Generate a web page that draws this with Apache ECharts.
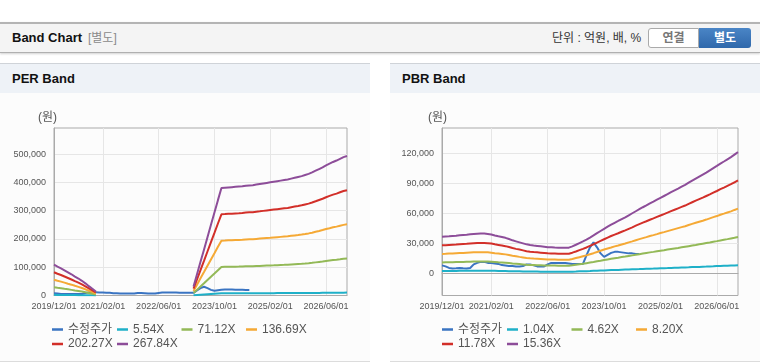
<!DOCTYPE html>
<html><head><meta charset="utf-8">
<script src="https://cdn.jsdelivr.net/npm/echarts@6/dist/echarts.min.js"></script>
<style>
body{margin:0;width:760px;height:364px;overflow:hidden;background:#fff;font-family:'Liberation Sans','Noto Sans CJK KR',sans-serif;position:relative}
.abs{position:absolute}
.hdr{left:0;top:22px;width:760px;height:28px;background:#f4f4f4;border-top:2px solid #b4b4b4;border-bottom:1px solid #b0b0b0;box-shadow:0 1px 2px rgba(0,0,0,0.18)}
.t1{left:12px;top:0;line-height:28px;font-size:13px;font-weight:bold;color:#111}
.t2{left:88px;top:0;line-height:28px;font-size:12px;color:#8a8a8a}
.unit{left:552px;top:0;line-height:28px;font-size:12px;color:#333}
.btn{top:4px;height:18px;line-height:18px;font-size:12px;font-weight:bold;text-align:center}
.b1{left:648px;width:49px;background:#fff;border:1px solid #aaa;border-radius:3px 0 0 3px;color:#777}
.b2{left:699px;width:52px;height:20px;line-height:20px;background:linear-gradient(#4a85c6,#2f68ab);border-radius:0 3px 3px 0;color:#fff}
.ph{top:63px;width:370px;height:29px;background:#eef2f7;border-top:1px solid #cfd3d8}
.ph span{position:absolute;left:12px;top:0;line-height:29px;font-size:13px;font-weight:bold;color:#111}
.pb{top:93px;width:370px;height:268px;background:#fcfcfc;border-bottom:1px solid #dcdcdc}
.chart{left:0;top:0;width:370px;height:268px}
</style></head>
<body>
<div class="abs hdr">
  <div class="abs t1">Band Chart</div>
  <div class="abs t2">[별도]</div>
  <div class="abs unit">단위 : 억원, 배, %</div>
  <div class="abs btn b1">연결</div>
  <div class="abs btn b2">별도</div>
</div>
<div class="abs ph" style="left:0"><span>PER Band</span></div>
<div class="abs ph" style="left:390px"><span>PBR Band</span></div>
<div class="abs pb" style="left:0"><div id="per" class="abs chart"></div></div>
<div class="abs pb" style="left:390px"><div id="pbr" class="abs chart"></div></div>
<script>
// ---- categories (monthly, 2019/12 .. 2026/12) ----
const categories = [];
for (let y = 2019, m = 12; y < 2027; ) {
  categories.push(y + '/' + (m < 10 ? '0' + m : m) + '/01');
  m++; if (m > 12) { m = 1; y++; }
}
const xTickLabels = ['2019/12/01','2021/02/01','2022/06/01','2023/10/01','2025/02/01','2026/06/01'];

// ---- adjusted price (수정주가) ----
const price = [8000,7000,5500,5000,5200,5500,5200,5000,5500,9000,
10500,11500,11500,10500,10500,10000,9500,8300,8000,7500,
7300,7000,7000,7300,9000,9000,8000,7000,7000,7000,
9000,10500,10500,10500,10500,10500,10000,9500,9500,9500,
9500,18000,26000,31000,26000,20000,16500,18500,20500,21500,
21500,21000,20500,20000,20000,19500,19500,
null,null,null,null,null,null,null,null,null,null,null,null,null,null,null,null,null,null,null,null,null,null,null,null,null,null,null,null];

// ---- PER bands ----
const perNames = ['5.54X','71.12X','136.69X','202.27X','267.84X'];
const per554 = [2300,2100,2000,1800,1700,1600,1400,1200,1100,900,700,500,300,
null,null,null,null,null,null,null,null,null,null,null,null,null,null,null,null,null,null,null,null,null,null,null,null,null,null,null,
700,1600,2500,3400,4300,5200,6100,7000,7900,7900,7900,7900,7900,8000,8000,8000,8000,8100,8100,
8200,8200,8200,8300,8300,8400,8400,8400,8500,8500,8600,8700,8700,8800,8900,9000,9100,9200,9400,9500,
9600,9800,9900,10000,10100,10200];
const per7112 = [28900,27100,25500,23600,21800,19900,17800,15900,13800,11400,8800,6400,3700,
null,null,null,null,null,null,null,null,null,null,null,null,null,null,null,null,null,null,null,null,null,null,null,null,null,null,null,
8500,19900,31600,43000,54700,66400,77800,89500,100900,
101200,101400,101700,102000,102200,102500,103000,103300,103600,
104100,104600,105200,105700,106200,106700,107300,107800,108300,108900,
109700,110500,111300,112100,113100,114200,115500,117100,118700,120300,
122100,123700,125300,126700,128200,129800,130900];
const per13669 = [55600,52100,49000,45400,41800,38300,34200,30600,26500,21900,16800,12200,7100,
null,null,null,null,null,null,null,null,null,null,null,null,null,null,null,null,null,null,null,null,null,null,null,null,null,null,null,
16300,38300,60700,82700,105100,127600,149500,172000,193900,
194400,195000,195500,196000,196500,197000,198000,198500,199000,
200100,201100,202100,203100,204100,205200,206200,207200,208200,209200,
210800,212300,213800,215400,217400,219500,222000,225100,228100,231200,
234800,237800,240900,243400,246500,249600,251600];
const per20227 = [82300,77000,72500,67200,61900,56600,50600,45300,39300,32500,24900,18100,10600,
null,null,null,null,null,null,null,null,null,null,null,null,null,null,null,null,null,null,null,null,null,null,null,null,null,null,null,
24200,56600,89900,122300,155600,188800,221300,254500,287000,
287700,288500,289200,290000,290700,291500,293000,293800,294500,
296000,297500,299100,300600,302100,303600,305100,306600,308100,309600,
311900,314200,316400,318700,321700,324700,328500,333000,337600,342100,
347400,351900,356400,360200,364800,369300,372300];
const per26784 = [109000,102000,96000,89000,82000,75000,67000,60000,52000,43000,33000,24000,14000,
null,null,null,null,null,null,null,null,null,null,null,null,null,null,null,null,null,null,null,null,null,null,null,null,null,null,null,
32000,75000,119000,162000,206000,250000,293000,337000,380000,
381000,382000,383000,384000,385000,386000,388000,389000,390000,
392000,394000,396000,398000,400000,402000,404000,406000,408000,410000,
413000,416000,419000,422000,426000,430000,435000,441000,447000,453000,
460000,466000,472000,477000,483000,489000,493000];
const perYTicks = [0,100000,200000,300000,400000,500000];

// ---- PBR bands ----
const pbrNames = ['1.04X','4.62X','8.20X','11.78X','15.36X'];
const pbr104 = [2500,2500,2500,2500,2500,2600,2600,2600,2600,2700,
2700,2700,2700,2700,2600,2600,2500,2500,2400,2300,
2200,2200,2100,2000,2000,1900,1900,1900,1800,1800,
1800,1800,1700,1700,1700,1700,1700,1800,1900,2100,
2200,2300,2400,2600,2700,2900,3000,3200,3300,3400,
3500,3700,3800,3900,4100,4200,4300,4500,4600,4700,
4800,5000,5100,5200,5300,5500,5600,5700,5900,6000,
6100,6300,6400,6500,6700,6800,7000,7100,7300,7400,
7600,7700,7900,8000,8200];
const pbr462 = [11000,11100,11100,11200,11300,11400,11500,11600,11700,11800,
11900,11900,11900,11900,11700,11400,11100,10900,10700,10300,
9900,9600,9300,9000,8700,8500,8400,8200,8100,8000,
7900,7800,7800,7700,7700,7700,7700,8100,8600,9100,
9600,10200,10800,11400,12100,12700,13400,14000,14600,15200,
15700,16300,16800,17400,18000,18600,19200,19800,20400,21000,
21500,22100,22700,23200,23800,24400,24900,25400,26000,26600,
27200,27800,28400,29100,29700,30300,30900,31600,32200,32900,
33600,34200,34900,35600,36400];
const pbr820 = [19500,19600,19800,19900,20100,20300,20400,20600,20800,21000,
21100,21200,21200,21000,20700,20200,19800,19400,19000,18300,
17600,17100,16500,16000,15500,15100,14800,14600,14400,14200,
14000,13900,13800,13700,13700,13700,13700,14400,15300,16200,
17100,18000,19100,20200,21400,22600,23800,24900,25900,27000,
27900,28900,29900,31000,32000,33100,34200,35200,36200,37300,
38200,39200,40300,41200,42200,43200,44200,45200,46200,47100,
48300,49400,50500,51600,52600,53700,54900,56100,57200,58500,
59600,60800,61900,63300,64600];
const pbr1178 = [28000,28200,28400,28600,28800,29100,29400,29600,29900,30100,
30300,30400,30400,30200,29800,29000,28400,27800,27200,26300,
25300,24500,23800,23000,22200,21700,21300,21000,20700,20400,
20100,19900,19800,19700,19600,19600,19700,20700,21900,23200,
24500,25900,27500,29100,30800,32400,34100,35700,37300,38700,
40100,41600,43000,44500,46000,47600,49100,50600,52000,53500,
54900,56400,57800,59200,60600,62100,63500,64900,66300,67700,
69400,71000,72600,74100,75600,77200,78800,80500,82200,84000,
85600,87300,89000,90900,92800];
const pbr1536 = [36500,36800,37000,37300,37600,38000,38300,38600,39000,39300,
39500,39700,39700,39400,38800,37800,37000,36300,35500,34300,
33000,32000,31000,30000,29000,28300,27800,27400,27000,26600,
26200,26000,25800,25700,25600,25600,25700,27000,28600,30300,
32000,33800,35800,37900,40100,42300,44500,46600,48600,50500,
52300,54200,56000,58000,60000,62000,64000,66000,67800,69800,
71600,73500,75400,77200,79000,81000,82800,84600,86500,88300,
90500,92600,94600,96600,98600,100600,102800,105000,107200,109500,
111600,113800,116000,118500,121000];
const pbrYTicks = [0,30000,60000,90000,120000];

const colors = ['#3a74c2','#1fb0c8','#93b957','#f5a935','#d22f29','#8d4d99'];
const fontF = "'Liberation Sans','Noto Sans CJK KR',sans-serif";

function fmt(v){ return String(v).replace(/\B(?=(\d{3})+(?!\d))/g, ','); }
function showX(idx, val){ return xTickLabels.indexOf(val) >= 0; }

function build(names, arrays, yMin, yMax, yTicks, gridLeft, gridRight, labelMargin){
  const allNames = ['수정주가'].concat(names);
  const allData = [price].concat(arrays);
  const colLeft = [52, 117, 181.5, 246];
  const legends = allNames.map((n, k) => ({
    data: [n], left: colLeft[k % 4], top: 230.5 + Math.floor(k / 4) * 14.5,
    padding: 0, icon: 'rect', itemWidth: 11, itemHeight: 2.5,
    textStyle: { fontSize: 12, color: '#555', fontFamily: fontF }
  }));
  return {
    animation: false,
    color: colors,
    grid: { left: gridLeft, right: gridRight, top: 35, bottom: 65.5, show: true, borderColor: '#aaa', borderWidth: 1, backgroundColor: 'transparent' },
    legend: legends,
    graphic: [{ type: 'text', left: 38, top: 19, style: { text: '(원)', fontSize: 12, fill: '#555', fontFamily: fontF } }],
    xAxis: {
      type: 'category', data: categories, boundaryGap: false,
      axisLine: { lineStyle: { color: '#aaa' } },
      axisTick: { show: false, interval: showX },
      axisLabel: { interval: showX, fontSize: 9, color: '#555', margin: 7, fontFamily: fontF },
      splitLine: { show: true, interval: showX, lineStyle: { color: '#e6e6e6' } }
    },
    yAxis: {
      type: 'value', min: yMin, max: yMax,
      axisLine: { show: true, lineStyle: { color: '#aaa' } },
      axisTick: { show: false, customValues: yTicks },
      axisLabel: { customValues: yTicks, fontSize: 9, color: '#555', margin: labelMargin, fontFamily: fontF, formatter: fmt },
      splitLine: { show: true, lineStyle: { color: '#e6e6e6' } }
    },
    series: allNames.map((n, k) => ({
      name: n, type: 'line', data: allData[k], symbol: 'none', showSymbol: false,
      lineStyle: { width: 2 }, connectNulls: false
    }))
  };
}

echarts.init(document.getElementById('per')).setOption(
  build(perNames, [per554, per7112, per13669, per20227, per26784], 0, 592000, perYTicks, 54, 23, 8));
echarts.init(document.getElementById('pbr')).setOption(
  build(pbrNames, [pbr104, pbr462, pbr820, pbr1178, pbr1536], -22000, 145000, pbrYTicks, 52, 22, 8));
</script>
</body></html>
